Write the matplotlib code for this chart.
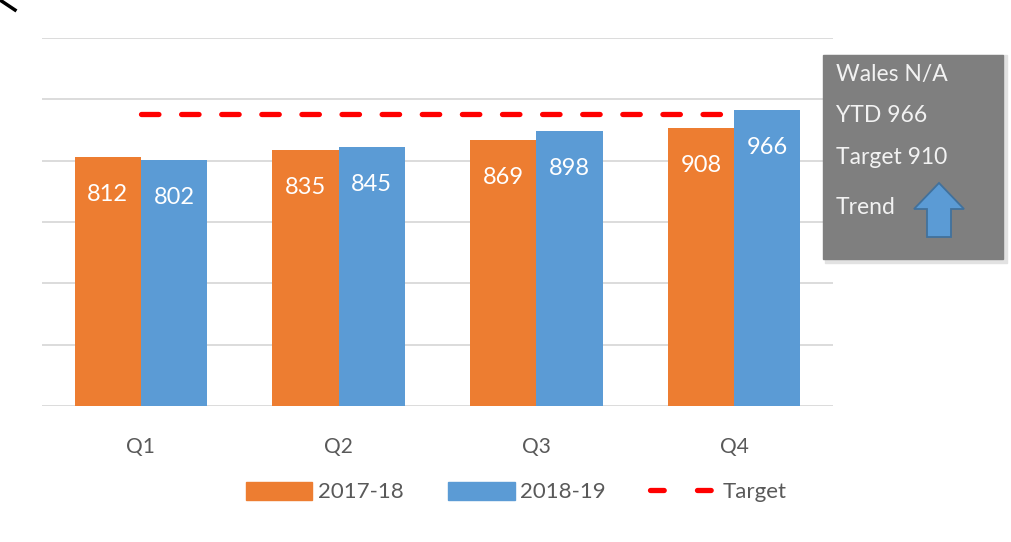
import numpy as np
import matplotlib.pyplot as plt
from matplotlib.patches import Rectangle, Polygon, Patch
from matplotlib.lines import Line2D

# Data
quarters = ['Q1', 'Q2', 'Q3', 'Q4']
values_1718 = [812, 835, 869, 908]
values_1819 = [802, 845, 898, 966]
target_line = [952, 952, 952, 952]
box_lines = ['Wales N/A', 'YTD 966', 'Target 910', 'Trend']

orange = '#ed7d31'
blue = '#5b9bd5'
grey_txt = '#595959'

plt.rcParams['font.family'] = ['Lato', 'DejaVu Sans']

fig = plt.figure(figsize=(10.11, 5.42), dpi=100)
ax = fig.add_axes([42 / 1011, 1 - 406 / 542, (833 - 42) / 1011, (406 - 38) / 542])

x = np.arange(len(quarters))
w = 0.335
b1 = ax.bar(x - w / 2, values_1718, w, color=orange, zorder=3)
b2 = ax.bar(x + w / 2, values_1819, w, color=blue, zorder=3)
ax.plot(x, target_line, color='#ff0000', lw=3.8, dashes=(3.3, 4.3),
        dash_capstyle='round', zorder=4)

for bars, vals in ((b1, values_1718), (b2, values_1819)):
    for r, v in zip(bars, vals):
        ax.annotate(str(v), (r.get_x() + r.get_width() / 2, v), xytext=(0, -27),
                    textcoords='offset points', ha='center', va='center',
                    color='white', fontsize=17, zorder=5)

ax.set_xlim(-0.5, 3.5)
ax.set_ylim(0, 1200)
ax.set_yticks(np.arange(0, 1201, 200))
ax.yaxis.grid(True, color='#d9d9d9', lw=1.3, zorder=0)
ax.set_yticklabels([])
ax.tick_params(axis='y', length=0)
ax.tick_params(axis='x', length=0, pad=22, labelsize=15, labelcolor=grey_txt)
ax.set_xticks(x)
ax.set_xticklabels(quarters)
for s in ax.spines.values():
    s.set_visible(False)

# legend
handles = [Patch(color=orange), Patch(color=blue),
           Line2D([], [], color='#ff0000', lw=3.8, dashes=(2.6, 6.3), dash_capstyle='round')]
fig.legend(handles, ['2017-18', '2018-19', 'Target'], loc='center',
           bbox_to_anchor=(516 / 1011, 1 - 492 / 542), ncol=3, frameon=False,
           fontsize=16, labelcolor=grey_txt, handlelength=3.0, handleheight=0.9,
           columnspacing=2.0, handletextpad=0.25)

# grey info box with shadow
fig.add_artist(Rectangle((825 / 1011, 1 - 263 / 542), 182 / 1011, 208 / 542,
                         transform=fig.transFigure, color='#e2e2e2', zorder=1))
fig.add_artist(Rectangle((823 / 1011, 1 - 259 / 542), 180 / 1011, 204 / 542,
                         transform=fig.transFigure, color='#7f7f7f', zorder=2))
for ypx, t in zip([74, 115, 158, 207], box_lines):
    fig.text(836 / 1011, 1 - ypx / 542, t, color='#f2f2f2', fontsize=16.5,
             va='center', ha='left', zorder=3)

# trend arrow
ax_px = [(939, 183), (964, 209), (951, 209), (951, 237), (927, 237), (927, 209), (914, 209)]
fig.add_artist(Polygon([(px / 1011, 1 - py / 542) for px, py in ax_px], closed=True,
                       transform=fig.transFigure, facecolor=blue, edgecolor='#41719c',
                       lw=1.3, zorder=3))

# clipped stroke at top-left
fig.add_artist(Line2D([0 / 1011, 15 / 1011], [1 - 0 / 542, 1 - 10 / 542],
                      transform=fig.transFigure, color='black', lw=2.5))

fig.savefig('out.png', dpi=100)
